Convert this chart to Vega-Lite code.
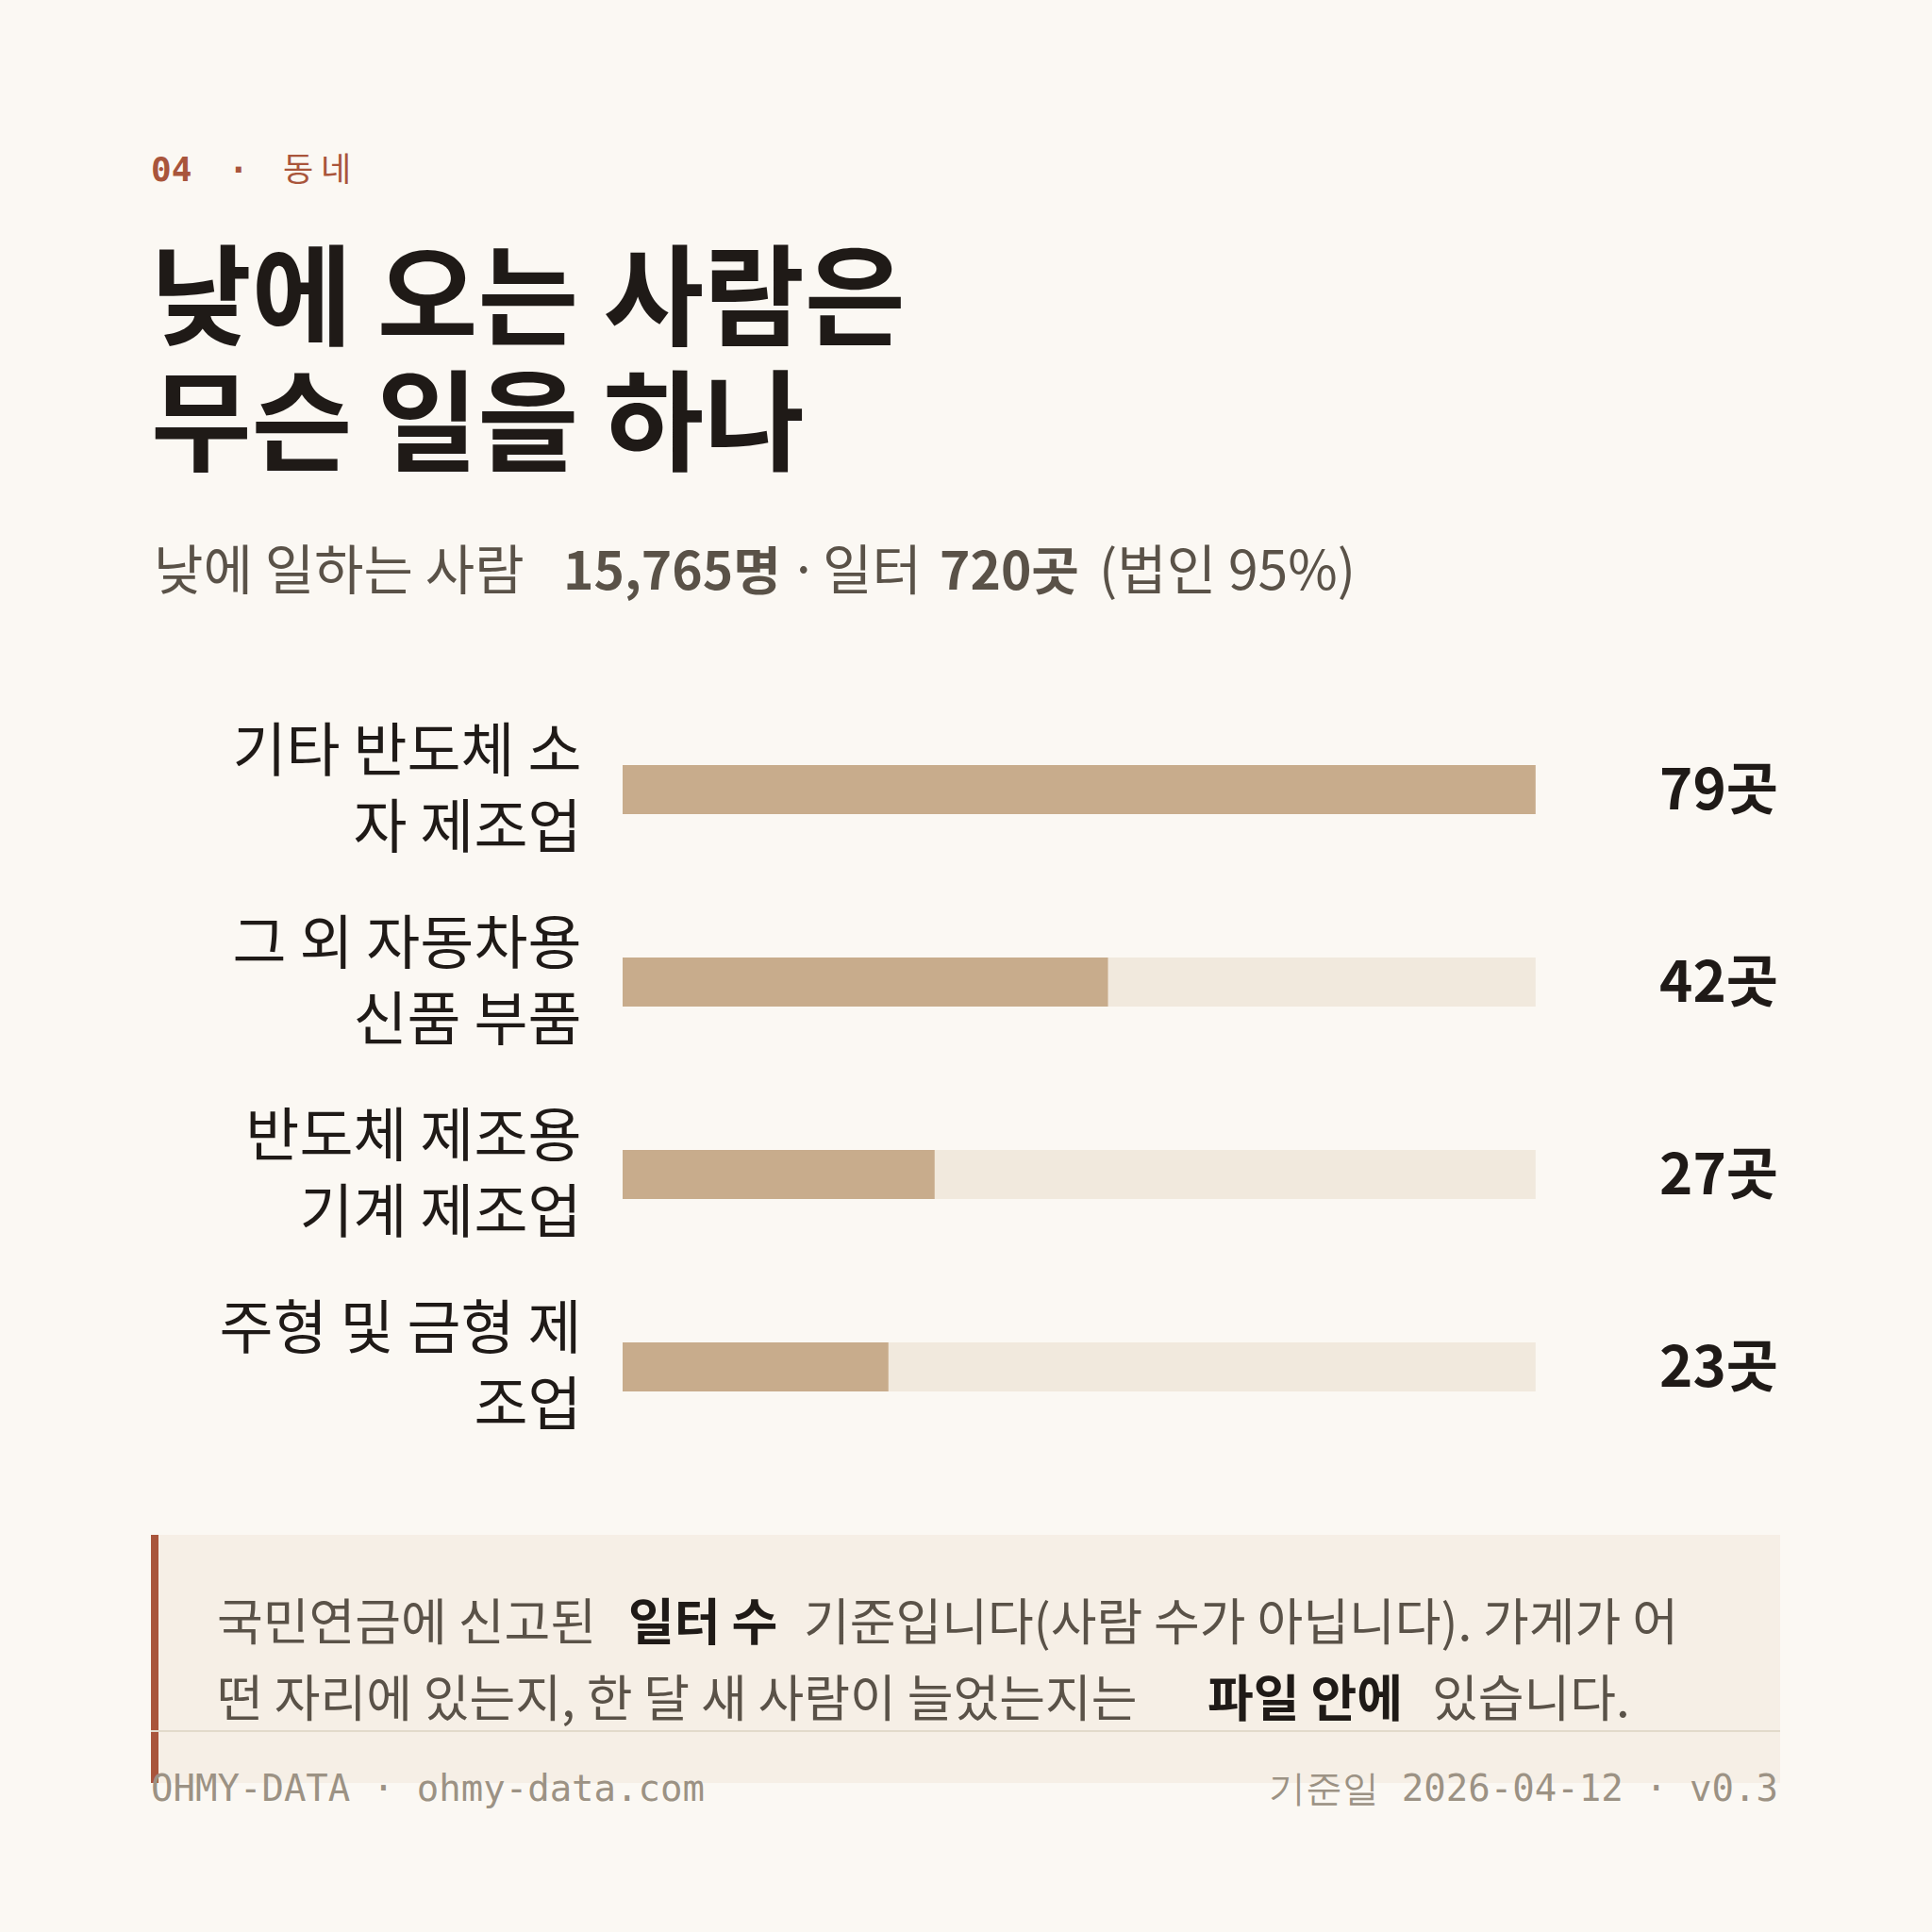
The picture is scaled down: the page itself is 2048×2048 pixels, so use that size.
{
  "$schema": "https://vega.github.io/schema/vega-lite/v6.json",
  "autosize": {"type": "none"},
  "width": 1225,
  "height": 816,
  "padding": {"left": 660, "top": 735, "right": 163, "bottom": 497},
  "background": "#fbf8f3",
  "config": {"view": {"stroke": null}, "font": "Noto Sans CJK KR"},
  "datasets": {
    "rows": [
      {"industry": "기타 반도체 소자 제조업", "count": 79},
      {"industry": "그 외 자동차용 신품 부품", "count": 42},
      {"industry": "반도체 제조용 기계 제조업", "count": 27},
      {"industry": "주형 및 금형 제조업", "count": 23}
    ]
  },
  "layer": [
    {
      "data": {"values": [{"t": "04", "pos": -500}, {"t": "·", "pos": -418}]},
      "mark": {"type": "text", "font": "DejaVu Sans Mono", "fontSize": 36, "fontWeight": "bold", "color": "#a9553b", "align": "left", "baseline": "alphabetic"},
      "encoding": {"x": {"field": "pos", "type": "quantitative", "scale": null}, "y": {"value": -543}, "text": {"field": "t"}}
    },
    {
      "data": {"values": [{"t": "동 네"}]},
      "mark": {"type": "text", "fontSize": 35, "color": "#a9553b", "align": "left", "baseline": "alphabetic"},
      "encoding": {"x": {"value": -360}, "y": {"value": -543}, "text": {"field": "t"}}
    },
    {
      "data": {"values": [{"t": "낮에 오는 사람은", "line": -378}, {"t": "무슨 일을 하나", "line": -245}]},
      "mark": {"type": "text", "fontSize": 116, "fontWeight": "bold", "color": "#1f1a17", "align": "left", "baseline": "alphabetic"},
      "encoding": {"x": {"value": -500}, "y": {"field": "line", "type": "quantitative", "scale": null}, "text": {"field": "t"}}
    },
    {
      "data": {"values": [
        {"t": "낮에 일하는 사람", "pos": -497},
        {"t": "·", "pos": 176},
        {"t": "일터", "pos": 212},
        {"t": "(법인 95%)", "pos": 505}
      ]},
      "mark": {"type": "text", "fontSize": 57, "color": "#5a5248", "align": "left", "baseline": "alphabetic"},
      "encoding": {"x": {"field": "pos", "type": "quantitative", "scale": null}, "y": {"value": -110}, "text": {"field": "t"}}
    },
    {
      "data": {"values": [
        {"t": "15,765명", "pos": -63},
        {"t": "720곳", "pos": 336}
      ]},
      "mark": {"type": "text", "fontSize": 55, "fontWeight": "bold", "color": "#5a5248", "align": "left", "baseline": "alphabetic"},
      "encoding": {"x": {"field": "pos", "type": "quantitative", "scale": null}, "y": {"value": -110}, "text": {"field": "t"}}
    },
    {
      "data": {"name": "rows"},
      "transform": [{"joinaggregate": [{"op": "max", "field": "count", "as": "max"}]}],
      "mark": {"type": "bar", "color": "#f1e9dd", "size": 52},
      "encoding": {
        "y": {"field": "industry", "type": "nominal", "sort": null,
          "scale": {"paddingInner": 0, "paddingOuter": 0},
          "axis": {"title": null, "domain": false, "ticks": false, "tickSize": 0, "labelPadding": 44, "labelOffset": -38,
            "labelFontSize": 62, "labelColor": "#1f1a17", "labelLimit": 0, "labelLineHeight": 81,
            "labelFont": "Noto Sans CJK KR", "labelAlign": "right", "labelBaseline": "middle",
            "labelExpr": "datum.value == '기타 반도체 소자 제조업' ? ['기타 반도체 소', '자 제조업'] : datum.value == '그 외 자동차용 신품 부품' ? ['그 외 자동차용', '신품 부품'] : datum.value == '반도체 제조용 기계 제조업' ? ['반도체 제조용', '기계 제조업'] : ['주형 및 금형 제', '조업']"}},
        "x": {"field": "max", "type": "quantitative", "scale": {"domain": [0, 100], "nice": false}, "axis": null}
      }
    },
    {
      "data": {"name": "rows"},
      "mark": {"type": "bar", "color": "#c8ac8c", "size": 52},
      "encoding": {
        "y": {"field": "industry", "type": "nominal", "sort": null},
        "x": {"field": "count", "type": "quantitative"}
      }
    },
    {
      "data": {"name": "rows"},
      "transform": [{"calculate": "datum.count + '곳'", "as": "label"}],
      "mark": {"type": "text", "fontSize": 60, "fontWeight": "bold", "color": "#1f1a17", "align": "right", "baseline": "middle", "dy": 3},
      "encoding": {
        "y": {"field": "industry", "type": "nominal", "sort": null},
        "x": {"datum": 100, "type": "quantitative"},
        "text": {"field": "label"}
      }
    },
    {
      "data": {"values": [{}]},
      "mark": {"type": "rect", "color": "#f6efe6"},
      "encoding": {"x": {"value": -500}, "x2": {"value": 1227}, "y": {"value": 892}, "y2": {"value": 1155}}
    },
    {
      "data": {"values": [{}]},
      "mark": {"type": "rect", "color": "#a9553b"},
      "encoding": {"x": {"value": -500}, "x2": {"value": -492}, "y": {"value": 892}, "y2": {"value": 1155}}
    },
    {
      "data": {"values": [
        {"t": "국민연금에 신고된", "pos": -430, "line": 1004},
        {"t": "기준입니다(사람 수가 아닙니다). 가게가 어", "pos": 192, "line": 1004},
        {"t": "떤 자리에 있는지, 한 달 새 사람이 늘었는지는", "pos": -430, "line": 1085},
        {"t": "있습니다.", "pos": 858, "line": 1085}
      ]},
      "mark": {"type": "text", "fontSize": 53, "color": "#5a5248", "align": "left", "baseline": "alphabetic"},
      "encoding": {"x": {"field": "pos", "type": "quantitative", "scale": null}, "y": {"field": "line", "type": "quantitative", "scale": null}, "text": {"field": "t"}}
    },
    {
      "data": {"values": [
        {"t": "일터 수", "pos": 6, "line": 1004},
        {"t": "파일 안에", "pos": 620, "line": 1085}
      ]},
      "mark": {"type": "text", "fontSize": 53, "fontWeight": "bold", "color": "#1f1a17", "align": "left", "baseline": "alphabetic"},
      "encoding": {"x": {"field": "pos", "type": "quantitative", "scale": null}, "y": {"field": "line", "type": "quantitative", "scale": null}, "text": {"field": "t"}}
    },
    {
      "data": {"values": [{}]},
      "mark": {"type": "rule", "color": "#e2dacb", "strokeWidth": 2},
      "encoding": {"x": {"value": -500}, "x2": {"value": 1227}, "y": {"value": 1100}}
    },
    {
      "data": {"values": [{"t": "OHMY-DATA · ohmy-data.com"}]},
      "mark": {"type": "text", "font": "DejaVu Sans Mono", "fontSize": 39, "color": "#9c9284", "align": "left", "baseline": "alphabetic"},
      "encoding": {"x": {"value": -500}, "y": {"value": 1174}, "text": {"field": "t"}}
    },
    {
      "data": {"values": [{"t": "기준일 2026-04-12 · v0.3"}]},
      "mark": {"type": "text", "font": "DejaVu Sans Mono", "fontSize": 39, "color": "#9c9284", "align": "right", "baseline": "alphabetic"},
      "encoding": {"x": {"value": 1225}, "y": {"value": 1174}, "text": {"field": "t"}}
    }
  ]
}
